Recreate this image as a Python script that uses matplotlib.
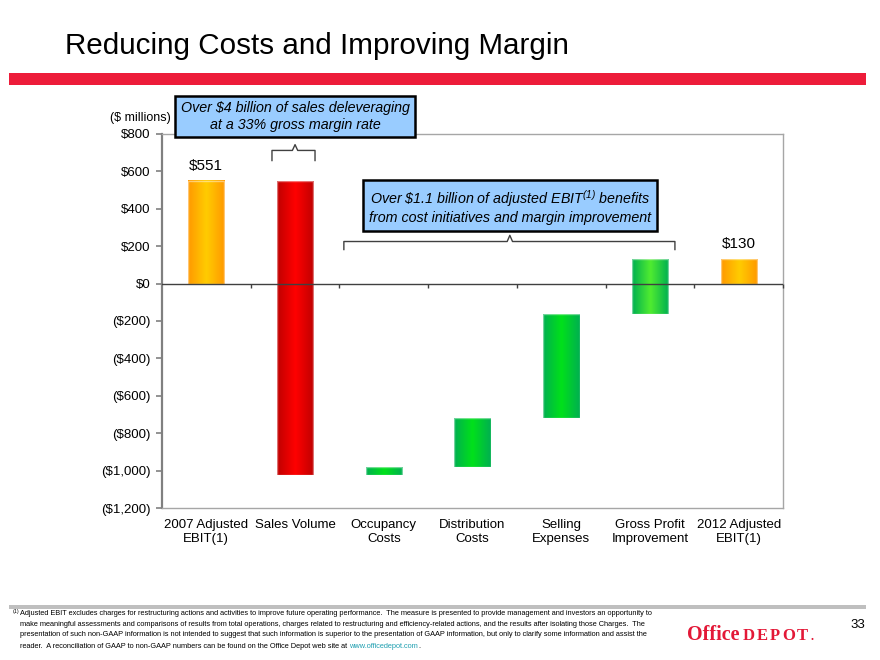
import numpy as np
import matplotlib
matplotlib.use("Agg")
import matplotlib.pyplot as plt
from matplotlib.colors import LinearSegmentedColormap
from matplotlib.patches import Rectangle

plt.rcParams['font.family'] = ['Liberation Sans', 'DejaVu Sans']
plt.rcParams['mathtext.fontset'] = 'custom'
plt.rcParams['mathtext.rm'] = 'Liberation Sans:italic'
plt.rcParams['mathtext.it'] = 'Liberation Sans:italic'

# data ($ millions)
categories = ["2007 Adjusted\nEBIT(1)", "Sales Volume", "Occupancy\nCosts", "Distribution\nCosts",
              "Selling\nExpenses", "Gross Profit\nImprovement", "2012 Adjusted\nEBIT(1)"]
start_value = 551
changes = [-1572, 42, 261, 556, 292]
end_value = 130
yticks = [800, 600, 400, 200, 0, -200, -400, -600, -800, -1000, -1200]

# bar colour gradients (edge, centre)
grads = [("#FF9900", "#FFCC00"), ("#C00000", "#FF0000"), ("#00B050", "#00E11A"),
         ("#00B050", "#00E11A"), ("#00B050", "#00E11A"), ("#00B050", "#50EC30"),
         ("#FF9900", "#FFCC00")]

heights = [start_value] + changes + [end_value]
bottoms = [0]
run = start_value
for c in changes:
    if c < 0:
        bottoms.append(run + c)
        heights[len(bottoms) - 1] = -c
    else:
        bottoms.append(run)
    run += c
bottoms.append(0)

fig = plt.figure(figsize=(8.8, 6.6), dpi=100)
ax = fig.add_axes([0.184, 0.2303, 0.706, 0.5667])

x = np.arange(len(categories))
bars = ax.bar(x, heights, bottom=bottoms, width=0.41, color='none', zorder=3)
for b, (c1, c2) in zip(bars, grads):
    cmap = LinearSegmentedColormap.from_list('g', [c1, c2, c1])
    g = np.linspace(0, 1, 64).reshape(1, -1)
    bx, by, bw, bh = b.get_x(), b.get_y(), b.get_width(), b.get_height()
    ax.imshow(g, cmap=cmap, extent=[bx, bx + bw, by, by + bh], aspect='auto', zorder=2,
              interpolation='bicubic')
    ax.add_patch(Rectangle((bx, by), bw, bh, fill=False, edgecolor='white', alpha=0.45, lw=1, zorder=3))

ax.set_xlim(-0.5, len(categories) - 0.5)
ax.set_ylim(-1200, 800)

def money(v):
    return "${:,}".format(v) if v >= 0 else "(${:,})".format(-v)

ax.set_yticks(yticks)
ax.set_yticklabels([money(v) for v in yticks], fontsize=9.5)
ax.tick_params(axis='y', length=4, width=1.2, color='#808080', pad=4)
ax.set_xticks(x)
ax.set_xticklabels(categories, fontsize=9.5)
ax.tick_params(axis='x', length=0, pad=8)
for s in ['top', 'right', 'bottom']:
    ax.spines[s].set_color('#A6A6A6')
    ax.spines[s].set_linewidth(1)
ax.spines['left'].set_color('#808080')
ax.spines['left'].set_linewidth(1.6)

# zero line with category ticks
ax.axhline(0, color='#404040', lw=1, zorder=4)
ax.vlines(x[:-1] + 0.5, -22, 0, color='#404040', lw=1, zorder=4)
ax.vlines([len(categories) - 0.5], -22, 0, color='#404040', lw=1, zorder=4, clip_on=False)

ax.text(x[0], start_value + 40, money(start_value), ha='center', va='bottom', fontsize=11)
ax.text(x[-1], end_value + 45, money(end_value), ha='center', va='bottom', fontsize=11)

def brace(x0, x1, xm, y0, y1, ytip):
    ax.plot([x0, x0, xm - 0.03, xm, xm + 0.03, x1, x1],
            [y0, y1, y1, ytip, y1, y1, y0], color='#404040', lw=1, clip_on=False, zorder=5,
            solid_joinstyle='round')

brace(0.74, 1.225, 1.0, 658, 712, 743)
brace(1.55, 5.28, 3.42, 182, 225, 258)

box = dict(boxstyle='square,pad=0.4', facecolor='#99CCFF', edgecolor='black', lw=1.8)
ax.text(1.0, 893, "Over $4 billion of sales deleveraging\nat a 33% gross margin rate",
        ha='center', va='center', fontsize=10.3, style='italic', bbox=box, zorder=6,
        linespacing=1.2, clip_on=False)
ax.text(3.42, 410, "Over \\$1.1 billion of adjusted EBIT$^{(1)}$ benefits\nfrom cost initiatives and margin improvement",
        ha='center', va='center', fontsize=10.3, style='italic', bbox=box, zorder=6,
        linespacing=1.2)

fig.text(0.125, 0.821, "($ millions)", ha='left', va='center', fontsize=9)

# title and bands
fig.text(0.074, 0.93, "Reducing Costs and Improving Margin", fontsize=21.3, va='center', ha='left')
fig.patches.append(Rectangle((0.01, 0.871), 0.974, 0.019, transform=fig.transFigure,
                             facecolor='#ED1C3A', edgecolor='none'))
fig.patches.append(Rectangle((0.01, 0.078), 0.974, 0.006, transform=fig.transFigure,
                             facecolor='#BFBFBF', edgecolor='none'))

foot = ("Adjusted EBIT excludes charges for restructuring actions and activities to improve future operating performance.  The measure is presented to provide management and investors an opportunity to\n"
        "make meaningful assessments and comparisons of results from total operations, charges related to restructuring and efficiency-related actions, and the results after isolating those Charges.  The\n"
        "presentation of such non-GAAP information is not intended to suggest that such information is superior to the presentation of GAAP information, but only to clarify some information and assist the")
last = "reader.  A reconciliation of GAAP to non-GAAP numbers can be found on the Office Depot web site at "
fs = 5.35
fig.text(0.014, 0.078, "(1)", fontsize=3.8, va='top')
fig.text(0.023, 0.0755, foot, fontsize=fs, va='top', linespacing=1.7)
t_last = fig.text(0.023, 0.0175, last, fontsize=fs, va='baseline')
fig.canvas.draw()
r = fig.canvas.get_renderer()
W = fig.bbox.width
bb = t_last.get_window_extent(r)
t_url = fig.text(bb.x1 / W, 0.0175, "www.officedepot.com", fontsize=fs, va='baseline',
                 color='#1F9FB0')
bb2 = t_url.get_window_extent(r)
fig.text(bb2.x1 / W, 0.0175, ".", fontsize=fs, va='baseline')

# logo
red = '#E31837'
t_off = fig.text(0.781, 0.030, "Office", fontsize=14.5, weight='bold', family='Liberation Serif',
                 color=red, va='baseline')
xl = t_off.get_window_extent(r).x1 + 3
for ch in "DEPOT.":
    t = fig.text(xl / W, 0.030, ch, fontsize=12 if ch != '.' else 9, weight='bold',
                 family='Liberation Serif', color=red, va='baseline')
    xl = t.get_window_extent(r).x1 + 2
fig.text(0.9665, 0.0485, "33", fontsize=9.5, va='baseline')

fig.savefig("out.png", dpi=100)
